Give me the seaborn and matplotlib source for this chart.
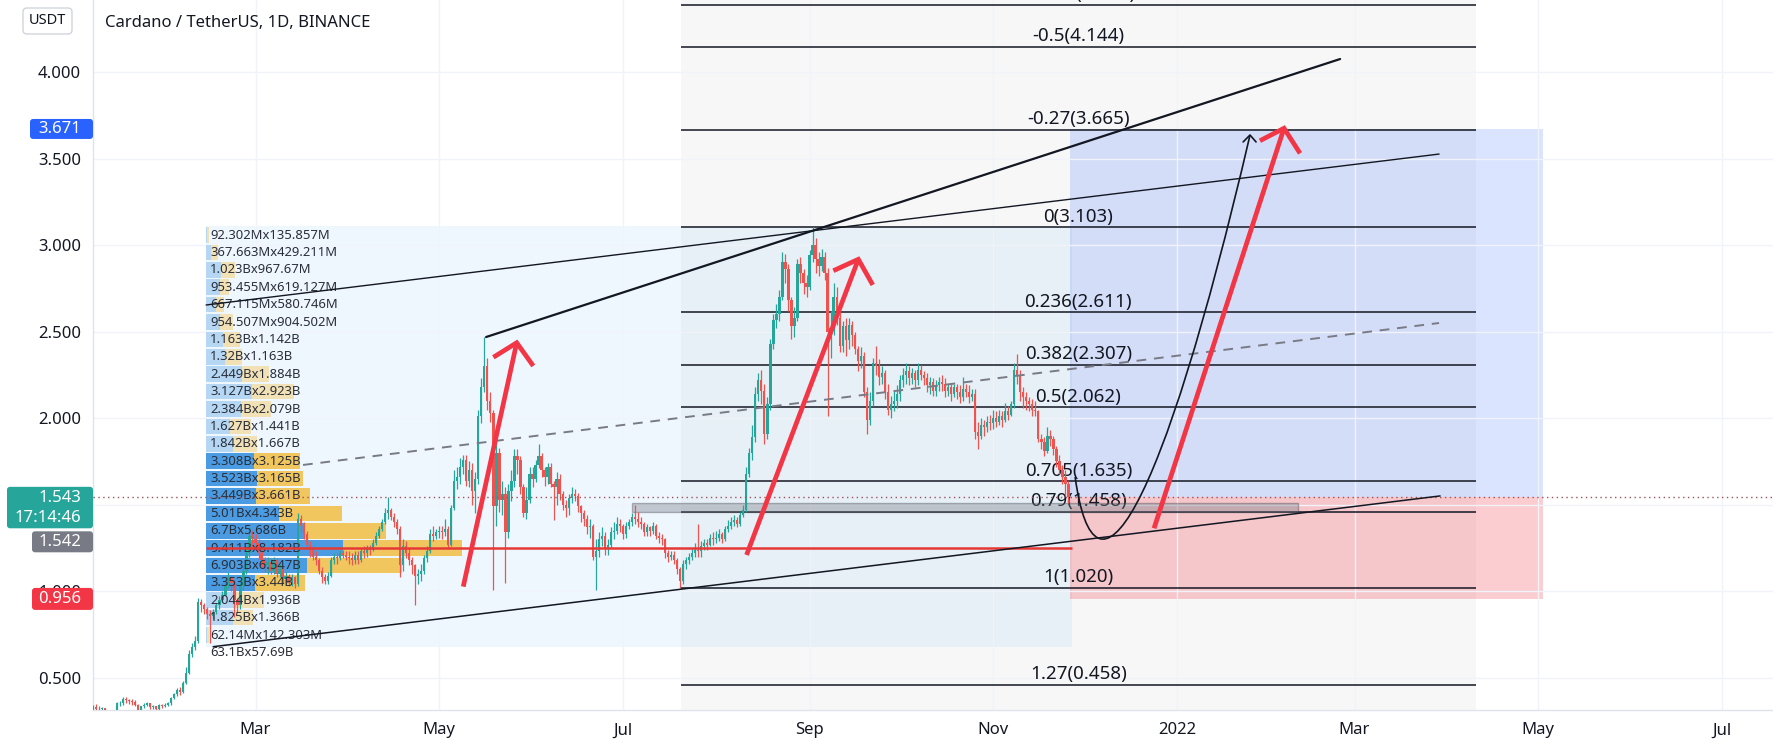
import numpy as np
import pandas as pd
import matplotlib
matplotlib.use("Agg")
import matplotlib.pyplot as plt
import matplotlib.dates as mdates
from matplotlib.patches import Rectangle, FancyBboxPatch, PathPatch
from matplotlib.path import Path
from matplotlib.transforms import IdentityTransform
import seaborn as sns

# ---------------------------------------------------------------- data
first_open = 0.310
close_jan = [0.330,0.318,0.318,0.323,0.300,0.272,0.283,0.300,0.352,0.352,0.378,0.372,0.365,0.360,0.345,0.310,0.335,0.345,0.352,0.330,0.337,0.318,0.345,0.335,0.345,0.352]
high_jan  = [0.345,0.350,0.335,0.330,0.325,0.305,0.300,0.310,0.360,0.365,0.392,0.390,0.380,0.378,0.370,0.348,0.340,0.355,0.360,0.356,0.345,0.340,0.350,0.350,0.352,0.362]
low_jan   = [0.300,0.305,0.300,0.310,0.290,0.240,0.255,0.275,0.295,0.335,0.345,0.355,0.350,0.345,0.335,0.290,0.300,0.325,0.338,0.322,0.318,0.310,0.312,0.325,0.330,0.340]
close_feb = [0.385,0.405,0.430,0.420,0.470,0.530,0.640,0.680,0.715,0.940,0.920,0.900,0.870,0.860,0.880,0.920,0.950,0.980,1.030,1.080,1.050,0.950,0.920,1.030,1.120,1.220,1.320,1.300]
high_feb  = [0.390,0.415,0.440,0.445,0.480,0.560,0.660,0.700,0.740,0.960,0.955,0.935,0.910,0.890,0.900,0.935,0.970,1.000,1.050,1.110,1.090,1.060,0.960,1.050,1.150,1.250,1.370,1.350]
low_feb   = [0.345,0.375,0.395,0.400,0.410,0.465,0.525,0.620,0.660,0.700,0.880,0.870,0.840,0.700,0.840,0.870,0.900,0.940,0.970,1.020,1.000,0.850,0.880,0.900,1.010,1.100,1.200,1.250]
close_mar = [1.280,1.220,1.180,1.150,1.170,1.120,1.180,1.100,1.130,1.070,1.090,1.050,1.080,1.040,1.420,1.380,1.330,1.270,1.240,1.200,1.180,1.120,1.080,1.060,1.090,1.180,1.200,1.190,1.220,1.210,1.200]
high_mar  = [1.330,1.300,1.240,1.200,1.200,1.190,1.200,1.190,1.160,1.140,1.110,1.100,1.100,1.090,1.450,1.440,1.400,1.350,1.290,1.260,1.230,1.190,1.140,1.100,1.110,1.200,1.220,1.220,1.240,1.240,1.230]
low_mar   = [1.250,1.190,1.140,1.110,1.100,1.100,1.100,1.080,1.080,1.050,1.040,1.030,1.030,1.020,1.030,1.340,1.300,1.250,1.200,1.180,1.150,1.100,1.050,1.040,1.040,1.080,1.160,1.160,1.180,1.190,1.180]
close_apr = [1.190,1.180,1.210,1.180,1.230,1.220,1.250,1.240,1.280,1.320,1.360,1.400,1.450,1.470,1.430,1.400,1.360,1.150,1.260,1.220,1.180,1.150,1.090,1.100,1.120,1.190,1.230,1.330,1.320,1.340]
high_apr  = [1.230,1.220,1.230,1.230,1.250,1.260,1.270,1.270,1.300,1.340,1.380,1.420,1.480,1.547,1.480,1.450,1.420,1.380,1.300,1.290,1.250,1.200,1.160,1.130,1.160,1.210,1.260,1.360,1.380,1.360]
low_apr   = [1.160,1.150,1.160,1.160,1.170,1.190,1.200,1.210,1.230,1.270,1.310,1.350,1.390,1.420,1.410,1.370,1.330,1.080,1.120,1.190,1.150,1.100,0.920,1.040,1.060,1.100,1.170,1.220,1.290,1.300]
close_may = [1.350,1.340,1.360,1.270,1.480,1.640,1.660,1.720,1.760,1.640,1.700,1.580,1.650,2.010,2.180,2.300,2.100,2.030,1.490,1.800,1.530,1.560,1.340,1.580,1.640,1.780,1.760,1.600,1.450,1.530,1.680]
high_may  = [1.380,1.380,1.420,1.380,1.500,1.700,1.720,1.770,1.790,1.790,1.750,1.740,1.690,2.050,2.230,2.470,2.350,2.150,2.050,1.870,1.830,1.640,1.600,1.620,1.700,1.820,1.820,1.780,1.620,1.600,1.720]
low_may   = [1.310,1.300,1.320,1.250,1.260,1.470,1.590,1.620,1.680,1.610,1.600,1.500,1.450,1.620,1.970,2.150,2.050,1.980,1.010,1.380,1.460,1.440,1.050,1.310,1.520,1.600,1.680,1.560,1.430,1.420,1.510]
close_jun = [1.650,1.730,1.780,1.700,1.660,1.720,1.620,1.600,1.650,1.560,1.500,1.480,1.540,1.560,1.550,1.490,1.450,1.420,1.370,1.380,1.200,1.230,1.300,1.320,1.250,1.270,1.340,1.350,1.390,1.380]
high_jun  = [1.720,1.760,1.850,1.800,1.720,1.740,1.740,1.640,1.690,1.680,1.580,1.530,1.560,1.600,1.590,1.570,1.500,1.470,1.440,1.420,1.390,1.300,1.340,1.370,1.340,1.300,1.370,1.400,1.430,1.420]
low_jun   = [1.600,1.630,1.710,1.660,1.610,1.620,1.600,1.410,1.500,1.530,1.470,1.430,1.440,1.510,1.520,1.460,1.400,1.380,1.330,1.310,1.180,1.010,1.200,1.260,1.210,1.210,1.250,1.300,1.330,1.340]
close_jul = [1.330,1.380,1.400,1.430,1.420,1.400,1.390,1.340,1.370,1.350,1.380,1.320,1.310,1.300,1.220,1.200,1.210,1.180,1.130,1.060,1.160,1.180,1.200,1.220,1.240,1.230,1.260,1.280,1.270,1.310,1.300]
high_jul  = [1.390,1.400,1.420,1.450,1.500,1.460,1.430,1.400,1.390,1.380,1.400,1.390,1.340,1.330,1.310,1.240,1.230,1.230,1.190,1.140,1.180,1.200,1.220,1.250,1.280,1.390,1.290,1.300,1.300,1.330,1.340]
low_jul   = [1.300,1.310,1.360,1.380,1.390,1.370,1.360,1.320,1.320,1.320,1.330,1.300,1.280,1.270,1.190,1.170,1.180,1.160,1.100,1.020,1.040,1.130,1.160,1.180,1.200,1.200,1.200,1.240,1.240,1.260,1.270]
close_aug = [1.310,1.330,1.300,1.360,1.380,1.400,1.410,1.390,1.440,1.470,1.680,1.800,1.890,2.140,2.220,2.160,1.910,2.080,2.430,2.570,2.600,2.700,2.900,2.860,2.680,2.530,2.580,2.890,2.840,2.780,2.760]
high_aug  = [1.350,1.360,1.340,1.380,1.410,1.430,1.440,1.430,1.460,1.500,1.720,1.830,1.960,2.180,2.260,2.280,2.200,2.120,2.460,2.600,2.660,2.740,2.960,2.950,2.890,2.700,2.640,2.920,2.930,2.860,2.830]
low_aug   = [1.280,1.290,1.280,1.290,1.340,1.360,1.380,1.370,1.380,1.430,1.460,1.660,1.760,1.860,2.100,2.080,1.850,1.880,2.050,2.400,2.520,2.560,2.680,2.780,2.620,2.460,2.470,2.560,2.780,2.720,2.700]
close_sep = [2.940,3.000,2.920,2.880,2.930,2.840,2.500,2.520,2.700,2.580,2.420,2.530,2.450,2.540,2.480,2.400,2.330,2.360,2.150,1.990,2.100,2.320,2.300,2.240,2.260,2.150,2.050,2.080,2.100,2.140]
high_sep  = [2.970,3.107,3.040,2.960,2.980,2.960,2.870,2.620,2.780,2.760,2.620,2.560,2.580,2.580,2.560,2.500,2.420,2.410,2.380,2.180,2.150,2.350,2.420,2.340,2.300,2.280,2.200,2.130,2.160,2.190]
low_sep   = [2.740,2.900,2.840,2.820,2.850,2.800,2.010,2.350,2.480,2.540,2.380,2.380,2.360,2.400,2.420,2.370,2.270,2.290,2.120,1.910,1.960,2.070,2.250,2.190,2.200,2.110,2.020,2.000,2.040,2.060]
close_oct = [2.220,2.250,2.270,2.230,2.260,2.220,2.280,2.250,2.230,2.190,2.210,2.160,2.190,2.210,2.200,2.160,2.180,2.140,2.180,2.150,2.120,2.170,2.150,2.120,2.140,1.920,1.900,1.960,1.950,1.980,1.970]
high_oct  = [2.250,2.290,2.320,2.300,2.290,2.280,2.320,2.310,2.270,2.260,2.240,2.230,2.220,2.240,2.250,2.230,2.200,2.200,2.200,2.200,2.190,2.240,2.200,2.190,2.170,2.170,1.980,2.000,1.990,2.010,2.020]
low_oct   = [2.100,2.180,2.200,2.190,2.200,2.180,2.190,2.220,2.190,2.150,2.140,2.130,2.130,2.160,2.160,2.120,2.130,2.100,2.120,2.110,2.090,2.100,2.120,2.090,2.100,1.880,1.820,1.880,1.900,1.920,1.930]
close_nov = [2.000,1.980,2.010,1.990,2.040,2.020,2.080,2.280,2.250,2.150,2.120,2.100,2.080,2.050,2.040,1.880,1.860,1.810,1.900,1.880,1.820,1.750,1.700,1.660,1.620,1.543]
high_nov  = [2.050,2.040,2.050,2.040,2.090,2.070,2.100,2.320,2.370,2.280,2.180,2.150,2.120,2.110,2.100,2.050,1.910,1.890,1.950,1.930,1.900,1.840,1.790,1.730,1.700,1.640]
low_nov   = [1.940,1.950,1.960,1.950,1.980,1.990,2.010,2.060,2.200,2.100,2.060,2.050,2.040,2.010,2.010,1.860,1.820,1.780,1.800,1.840,1.790,1.720,1.680,1.620,1.550,1.510]

closes = np.array(close_jan + close_feb + close_mar + close_apr + close_may + close_jun +
                  close_jul + close_aug + close_sep + close_oct + close_nov)
highs = np.array(high_jan + high_feb + high_mar + high_apr + high_may + high_jun +
                 high_jul + high_aug + high_sep + high_oct + high_nov)
lows = np.array(low_jan + low_feb + low_mar + low_apr + low_may + low_jun +
                low_jul + low_aug + low_sep + low_oct + low_nov)
dates = pd.date_range("2021-01-06", periods=len(closes), freq="D")

# Fibonacci retracement
fib_levels = [-0.618, -0.5, -0.27, 0, 0.236, 0.382, 0.5, 0.705, 0.79, 1, 1.27]
fib_prices = [4.390, 4.144, 3.665, 3.103, 2.611, 2.307, 2.062, 1.635, 1.458, 1.020, 0.458]
fib_span = ["2021-07-20 07:00", "2022-04-10 07:00"]

# Fixed range volume profile (top row first), volumes in billions
vp_up = [0.092302, 0.367663, 1.023, 0.953455, 0.667115, 0.954507, 1.163, 1.32, 2.449, 3.127,
         2.384, 1.627, 1.842, 3.308, 3.523, 3.449, 5.01, 6.7, 9.411, 6.903, 3.353, 2.044, 1.825, 0.06214]
vp_down = [0.135857, 0.429211, 0.96767, 0.619127, 0.580746, 0.904502, 1.142, 1.163, 1.884, 2.923,
           2.079, 1.441, 1.667, 3.125, 3.165, 3.661, 4.343, 5.686, 8.182, 6.547, 3.44, 1.936, 1.366, 0.142303]
vp_value_area = [13, 20]          # first / last row index of value area
vp_poc_row = 18
vp_total = [63.1, 57.69]
vp_span = ["2021-02-12 14:00", "2021-11-27 05:00"]
vp_price_range = [0.697, 3.108]

# Long position tool
pos_span = ["2021-11-26 12:00", "2022-05-02 14:00"]
pos_target, pos_entry, pos_stop = 3.671, 1.543, 0.956

# Support zone
zone_span = ["2021-07-04 02:00", "2022-02-10 05:00"]
zone_prices = [1.457, 1.512]

# Trend lines: (date, price) pairs
trend_thick = [("2021-05-16 14:00", 2.469), ("2022-02-24 05:00", 4.075)]
trend_upper = [("2021-02-12 14:00", 2.654), ("2022-03-29 02:00", 3.526)]
trend_dash = [("2021-03-16 19:00", 1.730), ("2022-03-29 02:00", 2.550)]
trend_lower = [("2021-02-14 22:00", 0.680), ("2022-03-29 10:00", 1.551)]

# Red arrows: tail, apex, head-left, head-right
red_arrows = [
    [("2021-05-09", 1.027), ("2021-05-26 18:00", 2.436), ("2021-05-19", 2.352), ("2021-06-01 06:00", 2.302)],
    [("2021-08-11 02:00", 1.210), ("2021-09-17 05:00", 2.918), ("2021-09-08 22:00", 2.852), ("2021-09-22", 2.770)],
    [("2021-12-24 10:00", 1.364), ("2022-02-05 14:00", 3.675), ("2022-01-28 14:00", 3.603), ("2022-02-10 22:00", 3.530)],
]
# Black curved arrow (cubic Bezier control points) and its head
curve_pts = [("2021-11-28 05:00", 1.660), ("2021-12-04 19:00", 0.834),
             ("2021-12-26 10:00", 1.412), ("2022-01-25 07:00", 3.636)]
curve_head = [("2022-01-23", 3.596), ("2022-01-25 07:00", 3.636), ("2022-01-27 07:00", 3.596)]

month_ticks = ["2021-03-01", "2021-05-01", "2021-07-01", "2021-09-01", "2021-11-01",
               "2022-01-01", "2022-03-01", "2022-05-01", "2022-07-01"]
month_labels = ["Mar", "May", "Jul", "Sep", "Nov", "2022", "Mar", "May", "Jul"]
price_ticks = [0.5, 1.0, 1.5, 2.0, 2.5, 3.0, 3.5, 4.0]
hidden_ticks = [1.5]   # covered by the last-price label in the reference

# ---------------------------------------------------------------- style
sns.set_theme(style="white")
plt.rcParams['font.family'] = ['Noto Sans', 'DejaVu Sans']
TXT = '#131722'
UP, DOWN = '#26a69a', '#ef5350'

def dn(s):
    return mdates.date2num(pd.Timestamp(s))

W, H = 1773, 748
fig = plt.figure(figsize=(W / 100, H / 100), dpi=100)
ax = fig.add_axes([93 / W, 38 / H, 1680 / W, 710 / H])
base = dn("2021-03-01")
ax.set_xlim(base - 53.97, base + 503.98)
ax.set_ylim(0.3143, 4.416)

ax.set_xticks([dn(t) for t in month_ticks])
ax.set_xticklabels(month_labels)
ax.set_yticks(price_ticks)
ax.set_yticklabels(["" if v in hidden_ticks else f"{v:.3f}" for v in price_ticks])
ax.tick_params(axis='x', length=0, pad=9, labelsize=12, labelcolor=TXT)
ax.tick_params(axis='y', length=0, pad=8.5, labelsize=12, labelcolor=TXT)
for lab in ax.get_xticklabels():
    if lab.get_text() == "2022":
        lab.set_fontweight('bold')
ax.grid(True, color='#f0f3fa', lw=1)
ax.set_axisbelow(True)
for s in ['top', 'right']:
    ax.spines[s].set_visible(False)
for s in ['left', 'bottom']:
    ax.spines[s].set_color('#e0e3eb')
    ax.spines[s].set_linewidth(1)

# ---------------------------------------------------------------- backgrounds
f0, f1 = dn(fib_span[0]), dn(fib_span[1])
ax.axvspan(f0, f1, color='#787b86', alpha=0.06, lw=0, zorder=0.3)

v0, v1 = dn(vp_span[0]), dn(vp_span[1])
ax.add_patch(Rectangle((v0, 0.68), v1 - v0, vp_price_range[1] - 0.68,
                       fc='#2196f3', alpha=0.07, lw=0, zorder=0.4))

p0, p1 = dn(pos_span[0]), dn(pos_span[1])
ax.add_patch(Rectangle((p0, pos_entry), p1 - p0, pos_target - pos_entry,
                       fc='#2962ff', alpha=0.17, lw=0, zorder=0.5))
ax.add_patch(Rectangle((p0, pos_stop), p1 - p0, pos_entry - pos_stop,
                       fc='#f23645', alpha=0.25, lw=0, zorder=0.5))

# ---------------------------------------------------------------- volume profile
nrows = len(vp_up)
edges = np.linspace(vp_price_range[1], vp_price_range[0], nrows + 1)
row_h = edges[0] - edges[1]
centers = (edges[:-1] + edges[1:]) / 2
days_per_B = 4.835
up_w = np.array(vp_up) * days_per_B
dn_w = np.array(vp_down) * days_per_B
in_va = [vp_value_area[0] <= i <= vp_value_area[1] for i in range(nrows)]
c_up = ['#4a9be2' if v else '#b5d7f3' for v in in_va]
c_dn = ['#f2c65e' if v else '#f3e1b6' for v in in_va]
ax.barh(centers, up_w, left=v0, height=row_h * 0.9, color=c_up, lw=0, zorder=1)
ax.barh(centers, dn_w, left=v0 + up_w, height=row_h * 0.9, color=c_dn, lw=0, zorder=1)

def vfmt(v):
    if v >= 1:
        return f"{v:.3f}".rstrip('0').rstrip('.') + "B"
    return f"{v * 1000:.3f}".rstrip('0').rstrip('.') + "M"

for i in range(nrows):
    ax.text(v0 + 1.4, centers[i], f"{vfmt(vp_up[i])}x{vfmt(vp_down[i])}",
            va='center', ha='left', color='#2a2e39', zorder=4.8, fontsize=9.4)
ax.text(v0 + 1.4, centers[-1] - row_h, f"{vfmt(vp_total[0])}x{vfmt(vp_total[1])}",
        va='center', ha='left', color='#2a2e39', zorder=4.8, fontsize=9.4)
ax.hlines(centers[vp_poc_row], v0, v1, color='#e53935', lw=1.8, zorder=5)

# ---------------------------------------------------------------- fib
ax.hlines(fib_prices, f0, f1, color='#131722', lw=1.1, zorder=2)
fmid = (f0 + f1) / 2
for lvl, pr in zip(fib_levels, fib_prices):
    ax.annotate(f"{lvl:g}({pr:.3f})", (fmid, pr), xytext=(0, 1.2), textcoords='offset points',
                ha='center', va='bottom', color=TXT, zorder=4.4, annotation_clip=False,
                fontsize=13.5)

# support zone
z0, z1 = dn(zone_span[0]), dn(zone_span[1])
ax.add_patch(Rectangle((z0, zone_prices[0]), z1 - z0, zone_prices[1] - zone_prices[0],
                       fc='#787b86', alpha=0.38, ec='#434651', lw=1, zorder=4.6))

# ---------------------------------------------------------------- candles
opens = np.concatenate([[first_open], closes[:-1]])
x = mdates.date2num(dates)
col = np.where(closes >= opens, UP, DOWN)
hi = np.maximum(highs, np.maximum(opens, closes))
lo = np.minimum(lows, np.minimum(opens, closes))
ax.vlines(x, lo, hi, colors=col, lw=0.9, zorder=4.7)
body_lo = np.minimum(opens, closes)
body_h = np.maximum(np.abs(closes - opens), 0.004)
ax.bar(x, body_h, bottom=body_lo, width=0.75, color=col, lw=0, zorder=4.7)

# ---------------------------------------------------------------- drawings
def seg(pts):
    return [dn(d) for d, _ in pts], [p for _, p in pts]

xs, ys = seg(trend_thick)
ax.plot(xs, ys, color=TXT, lw=1.6, zorder=6)
xs, ys = seg(trend_upper)
ax.plot(xs, ys, color=TXT, lw=1.0, zorder=6)
xs, ys = seg(trend_dash)
ax.plot(xs, ys, color='#787b86', lw=1.4, ls=(0, (5, 4)), zorder=6)
xs, ys = seg(trend_lower)
ax.plot(xs, ys, color=TXT, lw=1.1, zorder=6)

for arr in red_arrows:
    xs, ys = seg(arr)
    ax.plot(xs[:2], ys[:2], color='#f23645', lw=3.4, solid_capstyle='butt', zorder=7)
    ax.plot([xs[2], xs[1], xs[3]], [ys[2], ys[1], ys[3]], color='#f23645', lw=3.4,
            solid_joinstyle='miter', solid_capstyle='butt', zorder=7)

xs, ys = seg(curve_pts)
path = Path(list(zip(xs, ys)), [Path.MOVETO, Path.CURVE4, Path.CURVE4, Path.CURVE4])
ax.add_patch(PathPatch(path, fill=False, ec=TXT, lw=1.2, zorder=7))
xs, ys = seg(curve_head)
ax.plot(xs, ys, color=TXT, lw=1.2, zorder=7)

# last price dotted line
ax.axhline(pos_entry, color='#a0525a', lw=1, ls=(0, (1, 2.5)), zorder=4.9)

# ---------------------------------------------------------------- price labels on the scale
def ypix(price):
    return H - ax.transData.transform((base, price))[1]

def box(x0, x1, ytop, ybot, color):
    fig.add_artist(FancyBboxPatch((x0, H - ybot), x1 - x0, ybot - ytop,
                                  boxstyle='round,pad=0,rounding_size=3',
                                  transform=IdentityTransform(), fc=color, ec='none', zorder=10))

def txt(xp, yp, s, color='white', size=12, **kw):
    fig.text(xp, H - yp, s, transform=IdentityTransform(), color=color, fontsize=size,
             ha='right', va='center', zorder=11, **kw)

yt = ypix(pos_target)
box(30, 93, yt - 10, yt + 10, '#2962ff')
txt(81, yt, f"{pos_target:.3f}")
ye = ypix(pos_entry)
box(7, 93, ye - 10.5, ye + 31, '#26a69a')
txt(81, ye + 0.5, f"{pos_entry:.3f}")
txt(81, ye + 21, "17:14:46")
box(32, 93, ye + 34, ye + 55, '#787b86')
txt(81, ye + 44.5, "1.542")
ys_ = ypix(pos_stop)
box(32, 93, ys_ - 11, ys_ + 11, '#f23645')
txt(81, ys_, f"{pos_stop:.3f}")

# header
fig.add_artist(FancyBboxPatch((23, H - 34), 49, 26, boxstyle='round,pad=0,rounding_size=4',
                              transform=IdentityTransform(), fc='white', ec='#d1d4dc', lw=1, zorder=10))
fig.text(47.5, H - 21, "USDT", transform=IdentityTransform(), ha='center', va='center',
         fontsize=10.5, color=TXT, zorder=11)
fig.text(105, H - 23, "Cardano / TetherUS, 1D, BINANCE", transform=IdentityTransform(),
         ha='left', va='center', fontsize=12, color=TXT, zorder=11)

fig.savefig("out.png", dpi=100)
